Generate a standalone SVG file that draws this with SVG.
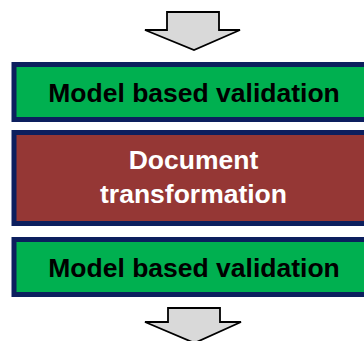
<svg xmlns="http://www.w3.org/2000/svg" width="364" height="341" viewBox="0 0 364 341">
  <style>
    .box { stroke: #0c1f5e; stroke-width: 5; }
    .green { fill: #00b050; }
    .red { fill: #953735; }
    .arrow { fill: #d9d9d9; stroke: #000000; stroke-width: 1.8; stroke-linejoin: miter; }
    .label { font-family: "Liberation Sans", Arial, sans-serif; font-weight: bold; font-size: 26.5px; text-anchor: middle; }
    .dark { fill: #000000; }
    .light { fill: #ffffff; }
  </style>
  <rect width="364" height="341" fill="#ffffff"/>

  <!-- flow arrows -->
  <g id="connectors">
    <path class="arrow" d="M167,12 H219 V30 H240 L194,50 L145,30 H167 Z"/>
    <path class="arrow" d="M168,308 H220 V322 H241 L194.5,343 L145,322 H168 Z"/>
  </g>

  <g id="validation-1">
    <rect class="box green" x="14" y="64.5" width="360" height="55"/>
    <text class="label dark" x="194" y="101.5">Model based validation</text>
  </g>

  <g id="transformation">
    <rect class="box red" x="14" y="132.5" width="360" height="91"/>
    <text class="label light" x="193.5" y="169">Document</text>
    <text class="label light" x="193.5" y="203">transformation</text>
  </g>

  <g id="validation-2">
    <rect class="box green" x="14" y="239.5" width="360" height="55"/>
    <text class="label dark" x="194" y="276.5">Model based validation</text>
  </g>
</svg>
